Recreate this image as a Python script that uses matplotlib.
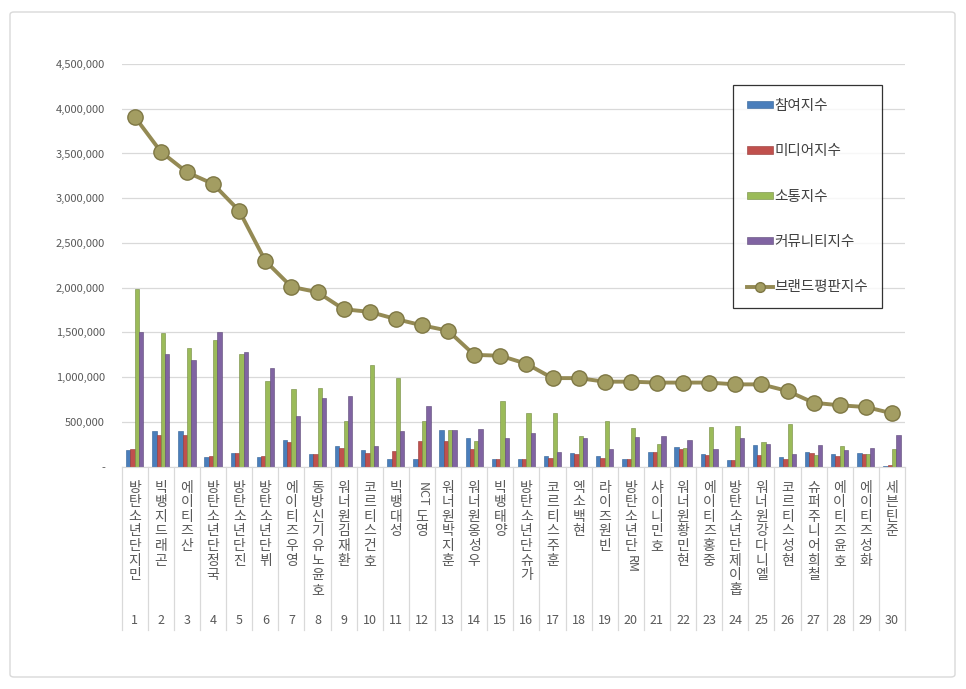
import matplotlib as mpl
mpl.use('Agg')
import matplotlib.pyplot as plt
from matplotlib.patches import FancyBboxPatch
from matplotlib.ticker import FuncFormatter

plt.rcParams['font.family'] = ['Noto Sans CJK KR', 'DejaVu Sans']

# ranking data
names = ['방탄소년단 지민', '빅뱅 지드래곤', '에이티즈 산', '방탄소년단 정국', '방탄소년단 진',
         '방탄소년단 뷔', '에이티즈 우영', '동방신기 유노윤호', '워너원 김재환', '코르티스 건호',
         '빅뱅 대성', 'NCT 도영', '워너원 박지훈', '워너원 옹성우', '빅뱅 태양',
         '방탄소년단 슈가', '코르티스 주훈', '엑소 백현', '라이즈 원빈', '방탄소년단 RM',
         '샤이니 민호', '워너원 황민현', '에이티즈 홍중', '방탄소년단 제이홉', '워너원 강다니엘',
         '코르티스 성현', '슈퍼주니어 희철', '에이티즈 윤호', '에이티즈 성화', '세븐틴 준']
ranks = list(range(1, 31))

participation = [187, 396, 396, 105, 157, 105, 302, 145, 231, 187, 82, 88, 410, 324, 82,
                 82, 116, 157, 123, 82, 164, 224, 145, 71, 243, 108, 168, 138, 157, 5]
media = [199, 354, 354, 116, 157, 119, 272, 145, 209, 157, 179, 284, 284, 198, 82,
         82, 101, 145, 101, 82, 164, 198, 131, 71, 127, 89, 157, 123, 145, 20]
communication = [1990, 1490, 1330, 1420, 1260, 958, 869, 876, 511, 1137, 995, 511, 410, 287, 731,
                 597, 597, 343, 511, 436, 250, 209, 440, 451, 273, 477, 131, 231, 145, 198]
community = [1510, 1260, 1190, 1510, 1280, 1100, 567, 772, 794, 231, 396, 679, 410, 418, 324,
             373, 160, 321, 198, 332, 343, 295, 198, 324, 257, 145, 243, 187, 209, 354]
brand = [3910, 3520, 3290, 3160, 2860, 2300, 2010, 1950, 1760, 1730, 1650, 1580, 1520, 1250, 1240,
         1150, 990, 990, 950, 950, 940, 940, 940, 920, 920, 846, 715, 686, 667, 597]

series = [('참여지수', participation, '#4A7EBB', '#2F5F95'),
          ('미디어지수', media, '#C0504D', '#943634'),
          ('소통지수', communication, '#9BBB59', '#71893F'),
          ('커뮤니티지수', community, '#8064A2', '#5C4776')]

W, H = 966, 689
fig = plt.figure(figsize=(W / 100, H / 100), dpi=100)

# outer chart border
fig.patches.append(FancyBboxPatch((10 / W, 12 / H), 945 / W, 665 / H,
                                  boxstyle='round,pad=0,rounding_size=0.004',
                                  transform=fig.transFigure, fill=False,
                                  edgecolor='#D9D9D9', linewidth=1))

left, right, bottom, top = 121.7, 905, 466.7, 64
ax = fig.add_axes([left / W, 1 - bottom / H, (right - left) / W, (bottom - top) / H])

x = ranks
bw = 0.165
handles = []
for k, (lab, vals, col, ecol) in enumerate(series):
    xs = [xi + (k - 1.5) * bw for xi in x]
    b = ax.bar(xs, [v * 1000 for v in vals], width=bw, color=col, edgecolor=ecol,
               linewidth=0.4, label=lab, zorder=2)
    handles.append(b)

ln, = ax.plot(x, [v * 1000 for v in brand], color='#948A54', linewidth=2.8, marker='o',
              markersize=11, markerfacecolor='#A39D62', markeredgecolor='#7E7744',
              markeredgewidth=1.0, label='브랜드평판지수', zorder=3)
handles.append(ln)

ax.set_xlim(0.5, 30.5)
ax.set_ylim(0, 4500000)
ax.set_yticks(range(0, 4500001, 500000))
ax.yaxis.set_major_formatter(FuncFormatter(lambda v, p: '-' if v == 0 else '{:,}'.format(int(v))))
ax.tick_params(axis='y', length=0, pad=12, labelsize=8, labelcolor='#595959')
ax.set_xticks([])
ax.grid(axis='y', color='#D9D9D9', linewidth=0.9, zorder=0)
ax.set_axisbelow(True)
for s in ['left', 'right', 'top']:
    ax.spines[s].set_visible(False)
ax.spines['bottom'].set_color('#D9D9D9')

# two-level category axis: vertical names, rank numbers, separators
xtr = ax.get_xaxis_transform()
sep_bottom = -(630 - bottom) / (bottom - top)
for b in range(31):
    ax.plot([b + 0.5, b + 0.5], [0, sep_bottom], transform=xtr, color='#D9D9D9',
            linewidth=0.9, clip_on=False)

pitch = 14.6
for xi, name in zip(x, names):
    cursor = 14
    for word in name.split(' '):
        if word.isascii():
            # latin words are turned on their side, as in the original
            ax.annotate(word, xy=(xi, 0), xycoords=xtr, xytext=(0, -cursor - 1),
                        textcoords='offset pixels', ha='center', va='top',
                        rotation=270, fontsize=9, color='#595959')
            cursor += 8 * len(word) + 5
        else:
            for ch in word:
                ax.annotate(ch, xy=(xi, 0), xycoords=xtr, xytext=(0, -cursor),
                            textcoords='offset pixels', ha='center', va='top',
                            fontsize=10, color='#595959')
                cursor += pitch
    ax.annotate(str(xi), xy=(xi, 0), xycoords=xtr, xytext=(0, -(620 - bottom)),
                textcoords='offset pixels', ha='center', va='center',
                fontsize=9, color='#595959')

leg = ax.legend(handles=handles, loc='upper left', bbox_to_anchor=(733 / W, 1 - 85 / H),
                bbox_transform=fig.transFigure, fontsize=10.5, frameon=True,
                fancybox=False, edgecolor='black', labelspacing=2.15,
                handlelength=1.8, handleheight=0.4, handletextpad=0.1,
                borderpad=0.95, borderaxespad=0)
leg.get_frame().set_linewidth(0.9)
for t in leg.get_texts():
    t.set_color('#404040')
leg.legend_handles[-1].set_markersize(7)

fig.savefig('out.png', dpi=100)
